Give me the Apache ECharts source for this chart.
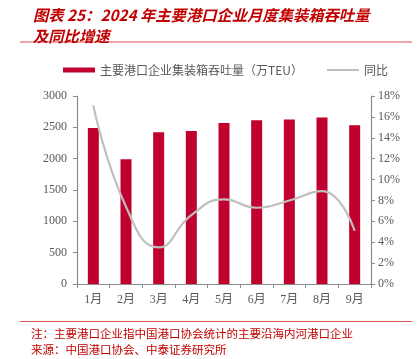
<!DOCTYPE html>
<html><head><meta charset="utf-8">
<script src="https://cdn.jsdelivr.net/npm/echarts@6/dist/echarts.min.js"></script>
<style>html,body{margin:0;padding:0;background:#fff}#c{width:419px;height:359px}</style>
</head><body><div id="c"></div>
<script>
const categories = ['1月','2月','3月','4月','5月','6月','7月','8月','9月'];
const throughput = [2490, 1990, 2420, 2440, 2570, 2615, 2625, 2655, 2535];
const yoy = [17.1, 7.4, 3.5, 6.6, 8.1, 7.3, 8.0, 8.9, 5.1];
const leftTicks = [0, 500, 1000, 1500, 2000, 2500, 3000];
const rightTicks = [0, 2, 4, 6, 8, 10, 12, 14, 16, 18];
const titleText = '图表 25：2024 年主要港口企业月度集装箱吞吐量\n及同比增速';
const noteText = '注：主要港口企业指中国港口协会统计的主要沿海内河港口企业\n来源：中国港口协会、中泰证券研究所';
const seriesNames = ['主要港口企业集装箱吞吐量（万TEU）', '同比'];

const chart = echarts.init(document.getElementById('c'));
const serif = '"Liberation Serif","Noto Sans CJK SC",serif';
chart.setOption({
  animation: false,
  title: [{
    text: titleText, left: 28, top: 0,
    textStyle: {color: '#c00000', fontSize: 15.3, fontWeight: 'bold', fontStyle: 'italic', lineHeight: 21, fontFamily: '"Noto Sans CJK SC",sans-serif'}
  }, {
    text: noteText, left: 26, top: 321,
    textStyle: {color: '#c00000', fontSize: 11.5, fontWeight: 'normal', lineHeight: 16, fontFamily: '"Noto Sans CJK SC",sans-serif'}
  }],
  graphic: [
    {type: 'line', shape: {x1: 20, y1: 42, x2: 412, y2: 42}, style: {stroke: '#d9534f', lineWidth: 1.2}},
    {type: 'line', shape: {x1: 20, y1: 321.5, x2: 412, y2: 321.5}, style: {stroke: '#d9534f', lineWidth: 1.2}}
  ],
  legend: {
    top: 59, left: 58, itemGap: 24, itemWidth: 32, itemHeight: 5,
    textStyle: {color: '#595959', fontSize: 12, fontFamily: '"Noto Sans CJK SC",sans-serif'},
    data: [{name: seriesNames[0], icon: 'rect'}, {name: seriesNames[1], icon: 'path://M0,0 L32,0 L32,2 L0,2 Z'}]
  },
  grid: {left: 77, right: 48, top: 96, bottom: 75},
  xAxis: {
    type: 'category', data: categories,
    axisLine: {lineStyle: {color: '#8c8c8c', width: 1.2}},
    axisTick: {show: true, length: 4, lineStyle: {color: '#8c8c8c'}},
    axisLabel: {color: '#595959', fontSize: 12, margin: 10, fontFamily: serif}
  },
  yAxis: [{
    type: 'value', min: 0, max: 3000, interval: 500,
    axisLine: {show: true, lineStyle: {color: '#8c8c8c', width: 1.2}},
    axisTick: {show: true, length: 4, lineStyle: {color: '#8c8c8c'}},
    splitLine: {show: false},
    axisLabel: {color: '#595959', fontSize: 12, margin: 10, fontFamily: serif, formatter: v => String(v)}
  }, {
    type: 'value', min: 0, max: 18, interval: 2,
    axisLine: {show: true, lineStyle: {color: '#8c8c8c', width: 1.2}},
    axisTick: {show: true, length: 4, lineStyle: {color: '#8c8c8c'}},
    splitLine: {show: false},
    axisLabel: {color: '#595959', fontSize: 12, margin: 7, fontFamily: serif, formatter: v => v + '%'}
  }],
  series: [{
    name: seriesNames[0], type: 'bar', data: throughput, barWidth: 11,
    itemStyle: {color: '#c0002f'}
  }, {
    name: seriesNames[1], type: 'line', yAxisIndex: 1, data: yoy, smooth: 0.5,
    showSymbol: false, symbol: 'none',
    lineStyle: {color: '#bfbfbf', width: 2.2}, itemStyle: {color: '#bfbfbf'}
  }]
});
</script></body></html>
